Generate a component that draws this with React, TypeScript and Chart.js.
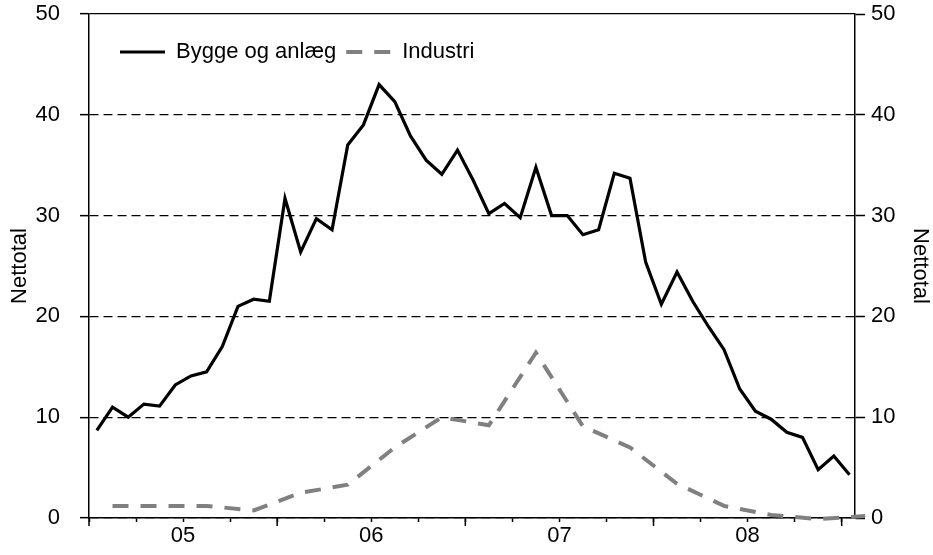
import React, { useEffect, useRef } from 'react';
import { Chart, registerables } from 'chart.js';

Chart.register(...registerables);

// Monthly survey values, Jan 2005 .. Jan 2009 (index = months since Jan 2005)
const byggeValues = [
  8.7, 11.0, 10.0, 11.3, 11.1, 13.2, 14.1, 14.5, 17.0, 21.0, 21.7, 21.5,
  31.7, 26.4, 29.7, 28.6, 37.0, 39.0, 43.0, 41.3, 37.9, 35.5, 34.1, 36.5,
  33.5, 30.2, 31.2, 29.8, 34.8, 30.0, 30.0, 28.1, 28.6, 34.2, 33.7, 25.4,
  21.2, 24.4, 21.5, 19.0, 16.7, 12.8, 10.6, 9.8, 8.5, 8.0, 4.8, 6.15, 4.3,
];

// Quarterly values (middle month of each quarter)
const industriMonths = [1, 4, 7, 10, 13, 16, 19, 22, 25, 28, 31, 34, 37, 40, 43, 46, 49];
const industriValues = [1.2, 1.2, 1.2, 0.75, 2.5, 3.3, 7.0, 10.0, 9.2, 16.4, 9.1, 7.0, 3.4, 1.2, 0.3, -0.1, 0.2];

const yearLabels = ['05', '06', '07', '08'];
const seriesLabels = ['Bygge og anlæg', 'Industri'];
const axisTitle = 'Nettotal';

const FONT = '"Liberation Sans", Arial, Helvetica, sans-serif';
const FONT_SIZE = 22;

const yearTicksPlugin = {
  id: 'yearTicks',
  afterDraw(chart: any) {
    const s = chart.scales.x;
    const ctx = chart.ctx;
    ctx.save();
    ctx.strokeStyle = '#000';
    ctx.lineWidth = 1.5;
    for (let k = 0; k <= yearLabels.length; k++) {
      const x = s.getPixelForValue(-0.5 + 12 * k);
      ctx.beginPath();
      ctx.moveTo(x, s.top);
      ctx.lineTo(x, s.top + 8);
      ctx.stroke();
    }
    ctx.restore();
  },
};

const insideLegendPlugin = {
  id: 'insideLegend',
  afterDraw(chart: any) {
    const { ctx, chartArea } = chart;
    let x = chartArea.left + 31;
    const y = chartArea.top + 38;
    ctx.save();
    ctx.font = `${FONT_SIZE}px ${FONT}`;
    ctx.textBaseline = 'middle';
    ctx.textAlign = 'left';
    chart.data.datasets.forEach((ds: any) => {
      ctx.beginPath();
      ctx.strokeStyle = ds.borderColor;
      ctx.lineWidth = ds.borderWidth;
      ctx.setLineDash(ds.borderDash || []);
      ctx.moveTo(x, y);
      ctx.lineTo(x + 45, y);
      ctx.stroke();
      ctx.setLineDash([]);
      x += 45 + 11;
      ctx.fillStyle = '#000';
      ctx.fillText(ds.label, x, y);
      x += ctx.measureText(ds.label).width + 10;
    });
    ctx.restore();
  },
};

const zeroPadY = (scale: any, width: number) => {
  scale.width = width;
  scale.paddingTop = 0;
  scale.paddingBottom = 0;
};

export default function App() {
  const ref = useRef<HTMLCanvasElement | null>(null);

  useEffect(() => {
    if (!ref.current) return;
    Chart.defaults.font.family = FONT;
    const tickFont = { size: FONT_SIZE, family: FONT };
    const titleFont = { size: FONT_SIZE, family: FONT, lineHeight: 1 };

    const chart = new Chart(ref.current, {
      type: 'line',
      data: {
        datasets: [
          {
            label: seriesLabels[0],
            data: byggeValues.map((v, i) => ({ x: i, y: v })),
            borderColor: '#000000',
            backgroundColor: '#000000',
            borderWidth: 3.2,
            pointRadius: 0,
            tension: 0,
            yAxisID: 'y',
          },
          {
            label: seriesLabels[1],
            data: industriMonths.map((m, i) => ({ x: m, y: industriValues[i] })),
            borderColor: '#808080',
            backgroundColor: '#808080',
            borderWidth: 4,
            borderDash: [16, 12],
            borderCapStyle: 'butt',
            pointRadius: 0,
            tension: 0,
            clip: false,
            yAxisID: 'y',
          },
        ],
      },
      options: {
        animation: false,
        responsive: true,
        maintainAspectRatio: false,
        layout: { padding: { top: 14, left: 0, right: 0, bottom: 0 } },
        plugins: { legend: { display: false }, tooltip: { enabled: false } },
        scales: {
          x: {
            type: 'linear',
            min: -0.5,
            max: 48.35,
            bounds: 'data',
            afterBuildTicks: (scale: any) => {
              const t: any[] = [];
              for (let v = -0.5; v < 48; v += 3) t.push({ value: v });
              scale.ticks = t;
            },
            afterFit: (scale: any) => {
              scale.height = 37;
              scale.paddingLeft = 0;
              scale.paddingRight = 0;
            },
            grid: {
              drawOnChartArea: false,
              drawTicks: true,
              tickLength: 4,
              tickColor: '#000',
              tickWidth: 1.5,
              tickBorderDash: [],
            },
            border: { display: true, color: '#000', width: 1.5 },
            ticks: {
              autoSkip: false,
              maxRotation: 0,
              minRotation: 0,
              padding: 1,
              color: '#000',
              font: tickFont,
              callback: (value: any) => {
                const k = (Number(value) - 5.5) / 12;
                const r = Math.round(k);
                return Math.abs(k - r) < 1e-6 && r >= 0 && r < yearLabels.length ? yearLabels[r] : '';
              },
            },
          },
          y: {
            position: 'left',
            min: 0,
            max: 50,
            afterFit: (scale: any) => zeroPadY(scale, 89),
            ticks: { stepSize: 10, padding: 20, color: '#000', font: tickFont },
            grid: {
              drawOnChartArea: true,
              drawTicks: true,
              tickLength: 9,
              color: '#000',
              lineWidth: 1.3,
              tickColor: '#000',
              tickWidth: 1.5,
              tickBorderDash: [],
            },
            border: {
              display: true,
              color: '#000',
              width: 1.5,
              dash: (ctx: any) => (ctx.tick && ctx.tick.value === 50 ? [] : [9, 5]),
            },
            title: { display: true, text: axisTitle, color: '#000', font: titleFont, padding: { top: 9, bottom: 0 } },
          },
          y1: {
            position: 'right',
            min: 0,
            max: 50,
            afterFit: (scale: any) => zeroPadY(scale, 78),
            ticks: { stepSize: 10, padding: 6, color: '#000', font: tickFont },
            grid: {
              drawOnChartArea: false,
              drawTicks: true,
              tickLength: 10,
              tickColor: '#000',
              tickWidth: 1.5,
              tickBorderDash: [],
            },
            border: { display: true, color: '#000', width: 1.5 },
            title: { display: true, text: axisTitle, color: '#000', font: titleFont, padding: { top: 2, bottom: 0 } },
          },
        },
      } as any,
      plugins: [yearTicksPlugin, insideLegendPlugin],
    });

    return () => chart.destroy();
  }, []);

  return (
    <div style={{ position: 'absolute', left: 0, top: 0, width: 933, height: 555, background: '#fff' }}>
      <canvas ref={ref} />
    </div>
  );
}
